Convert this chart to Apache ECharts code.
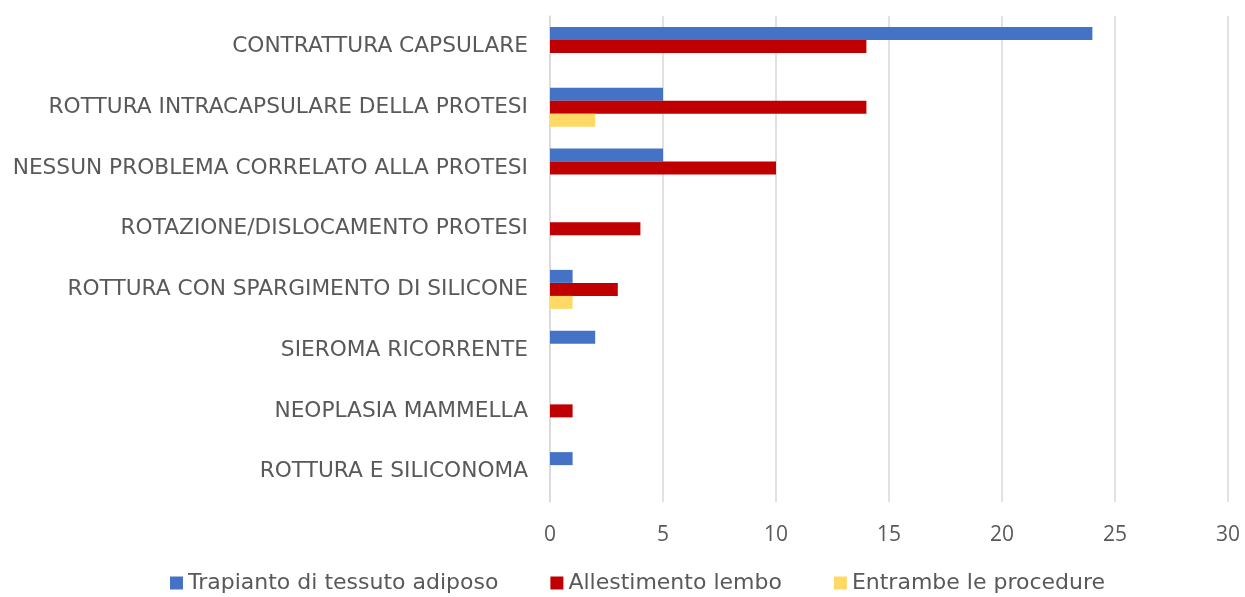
<!DOCTYPE html>
<html><head><meta charset="utf-8">
<script src="https://cdn.jsdelivr.net/npm/echarts@6/dist/echarts.min.js"></script>
<style>html,body{margin:0;padding:0;background:#fff}#c{width:1245px;height:597px}</style>
</head><body><div id="c"></div>
<script>
const categories = ["CONTRATTURA CAPSULARE","ROTTURA INTRACAPSULARE DELLA PROTESI","NESSUN PROBLEMA CORRELATO ALLA PROTESI","ROTAZIONE/DISLOCAMENTO PROTESI","ROTTURA CON SPARGIMENTO DI SILICONE","SIEROMA RICORRENTE","NEOPLASIA MAMMELLA","ROTTURA E SILICONOMA"];
const trapianto = [24,5,5,0,1,2,0,1];
const allestimento = [14,14,10,4,3,0,1,0];
const entrambe = [0,2,0,0,1,0,0,0];
const seriesNames = ["Trapianto di tessuto adiposo","Allestimento lembo","Entrambe le procedure"];
const FONT = "DejaVu Sans";
const chart = echarts.init(document.getElementById('c'));
const mk = (name, data, color) => ({name, type:'bar', data, barWidth:13, barGap:'0%', barCategoryGap:'36%', itemStyle:{color}});
chart.setOption({
  animation:false,
  grid:{left:550,right:17,top:16,bottom:95,containLabel:false},
  legend:{bottom:-2,left:165,itemWidth:13,itemHeight:13,itemGap:52,icon:'rect',
    textStyle:{fontFamily:FONT,fontSize:22,color:'#595959'},
    data:seriesNames},
  xAxis:{type:'value',min:0,max:30,interval:5,
    axisLine:{show:false},axisTick:{show:false},
    splitLine:{lineStyle:{color:'#d9d9d9',width:1.5}},
    axisLabel:{fontFamily:"Open Sans",fontSize:21,color:'#595959',margin:23}},
  yAxis:{type:'category',data:categories,inverse:true,
    axisLine:{show:true,lineStyle:{color:'#d9d9d9',width:1.5}},axisTick:{show:false},
    axisLabel:{fontFamily:FONT,fontSize:21.7,color:'#595959',margin:22}},
  series:[mk(seriesNames[0],trapianto,'#4472C4'),mk(seriesNames[1],allestimento,'#C00000'),mk(seriesNames[2],entrambe,'#FFD966')]
});
</script></body></html>
